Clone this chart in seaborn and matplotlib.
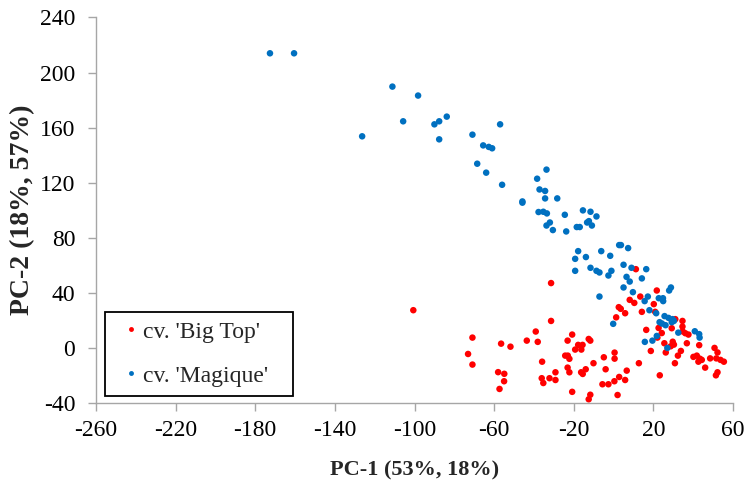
import numpy as np
import pandas as pd
import matplotlib
matplotlib.use("Agg")
import matplotlib.pyplot as plt
import seaborn as sns

# PCA scores, cultivar 'Big Top'
bigtop_pc1 = [-100.6, -31.4, -31.4, -70.9, -73.1, -70.9, -56.5, -51.8, -58.0, -54.9,
              -55.0, -57.3, -43.6, -39.1, -38.1, -35.9, -36.1, -35.3, -32.2, -29.2,
              -29.2, -20.8, -23.1, -17.8, -15.6, -19.3, -16.2, -12.5, -11.7, -24.3,
              -23.0, -22.2, -23.1, -22.2, -16.3, -15.5, -14.0, -10.1, -20.8, -11.7,
              -12.5, -4.9, -4.0, 0.5, 0.5, -5.6, -2.6, 0.4, 2.0, 2.8,
              5.8, 6.6, 12.7, 1.3, 2.6, 3.6, 5.8, 11.2, 21.7, 13.4,
              8.1, 10.4, 20.2, 14.2, 20.9, 34.6, 34.6, 31.0, 29.2, 16.4,
              22.6, 24.2, 22.0, 34.7, 36.0, 37.6, 25.5, 29.7, 30.3, 28.7,
              36.8, 43.0, 18.7, 26.2, 33.8, 32.3, 30.8, 23.2, 40.1, 41.8,
              43.3, 44.3, 42.6, 46.0, 48.5, 50.7, 52.2, 51.6, 53.7, 55.4,
              52.2, 51.4]
bigtop_pc2 = [27.4, 47.1, 19.6, 7.5, -4.4, -12.1, 3.1, 0.9, -17.6, -18.8,
              -24.2, -29.8, 5.3, 11.9, 4.4, -10.0, -22.0, -25.5, -22.0, -17.7,
              -23.3, 9.7, 5.3, 2.2, 2.2, -1.2, -1.2, 6.5, 5.3, -5.6,
              -5.6, -7.9, -14.3, -17.7, -17.7, -18.9, -15.5, -11.1, -31.9, -34.0,
              -37.3, -6.8, -15.5, -3.4, -7.8, -26.4, -26.4, -24.2, -34.2, -21.1,
              -23.3, -16.5, -11.1, 22.2, 29.6, 28.4, 25.2, 57.2, 41.7, 37.3,
              34.9, 32.7, 31.8, 26.2, 26.2, 19.6, 15.5, 20.9, 14.3, 13.1,
              14.5, 10.8, 7.5, 12.0, 10.7, 9.7, 3.4, 4.5, 2.4, 1.2,
              3.4, 2.0, -2.2, -3.3, -2.2, -5.6, -11.1, -19.9, -6.5, -5.6,
              -7.8, -8.7, -10.0, -14.3, -7.6, 0.0, -3.3, -7.6, -8.7, -10.0,
              -17.7, -19.9]

# PCA scores, cultivar 'Magique'
magique_pc1 = [-172.6, -160.5, -111.1, -98.2, -105.7, -126.3, -90.0, -87.6, -83.8, -87.6,
               -70.9, -65.5, -62.7, -61.0, -68.5, -64.0, -57.0, -56.0, -45.8, -45.8,
               -38.4, -37.2, -37.7, -33.7, -34.4, -34.4, -28.3, -35.3, -33.5, -32.0,
               -33.7, -30.5, -24.5, -23.8, -15.4, -11.6, -8.6, -12.4, -13.3, -10.9,
               -18.5, -17.0, 2.8, 3.7, 7.3, -17.8, -19.3, -13.9, -6.2, -1.7,
               5.0, 9.0, 16.4, -11.6, -8.6, -7.1, -19.3, -1.1, -2.6, 6.5,
               8.1, 14.2, 5.0, 9.7, 27.9, 28.8, -7.1, 17.2, 15.6, 22.7,
               24.8, 24.9, 18.0, 21.4, 25.6, 27.6, 29.6, 30.3, 23.1, 24.3,
               26.1, 29.2, -0.2, 32.5, 40.8, 43.0, 43.2, 21.7, 19.5, 15.7,
               27.0]
magique_pc2 = [214.0, 214.0, 189.8, 183.3, 164.6, 153.7, 162.4, 164.6, 168.0, 151.5,
               154.9, 147.1, 146.0, 145.0, 133.8, 127.3, 162.4, 118.5, 106.4, 105.5,
               122.9, 115.1, 98.7, 129.5, 114.0, 108.6, 108.6, 98.9, 97.7, 91.1,
               88.9, 85.6, 96.7, 84.6, 99.9, 98.9, 95.5, 92.1, 91.1, 88.9,
               87.8, 87.8, 74.7, 74.7, 72.5, 70.3, 64.7, 66.0, 70.3, 66.9,
               60.4, 58.2, 57.2, 58.2, 56.0, 54.8, 56.0, 56.0, 52.6, 51.6,
               48.2, 50.5, 43.9, 40.5, 41.7, 43.9, 37.3, 37.3, 34.0, 36.1,
               36.1, 34.0, 27.4, 25.2, 23.1, 21.8, 20.9, 19.6, 18.7, 17.7,
               16.5, 18.7, 17.5, 11.1, 12.1, 10.0, 7.5, 8.7, 5.3, 4.4,
               0.0]

labels = ["cv. 'Big Top'", "cv. 'Magique'"]
colors = ["#FF0000", "#0070C0"]
x_ticks = list(range(-260, 61, 40))
y_ticks = list(range(-40, 241, 40))

df = pd.DataFrame({
    "PC1": bigtop_pc1 + magique_pc1,
    "PC2": bigtop_pc2 + magique_pc2,
    "cultivar": [labels[0]] * len(bigtop_pc1) + [labels[1]] * len(magique_pc1),
})

sns.set_style("ticks")
plt.rcParams["font.family"] = ["Liberation Serif", "DejaVu Serif"]
plt.rcParams["axes.unicode_minus"] = False

fig = plt.figure(figsize=(7.48, 4.86), dpi=100)
ax = fig.add_axes([0.1283, 0.1708, 0.8517, 0.7932])

sns.scatterplot(data=df, x="PC1", y="PC2", hue="cultivar", hue_order=labels,
                palette=colors, s=22, linewidth=0, ax=ax, legend=True)

ax.set_xlim(-260, 60)
ax.set_ylim(-40, 240)
ax.set_xticks(x_ticks)
ax.set_yticks(y_ticks)
ax.tick_params(axis="both", direction="out", length=6, width=1, color="#A6A6A6",
               labelsize=17, labelcolor="black")
ax.tick_params(axis="x", pad=6)
ax.tick_params(axis="y", pad=9)
for side in ["top", "right"]:
    ax.spines[side].set_visible(False)
for side in ["left", "bottom"]:
    ax.spines[side].set_color("#A6A6A6")
    ax.spines[side].set_linewidth(1)

ax.set_xlabel("PC-1 (53%, 18%)", fontsize=16, fontweight="bold", labelpad=14)
ax.set_ylabel("PC-2 (18%, 57%)", fontsize=20, fontweight="bold", labelpad=3)

leg = ax.legend(loc="lower left", bbox_to_anchor=(0.014, 0.018, 0.295, 0.223),
                mode="expand", fontsize=17, frameon=True, fancybox=False,
                framealpha=1, edgecolor="black", borderpad=0.4,
                labelspacing=0.95, handlelength=1.4, handletextpad=-0.2,
                borderaxespad=0, markerscale=0.75)
leg.get_frame().set_linewidth(1.3)

fig.savefig("out.png", dpi=100)
